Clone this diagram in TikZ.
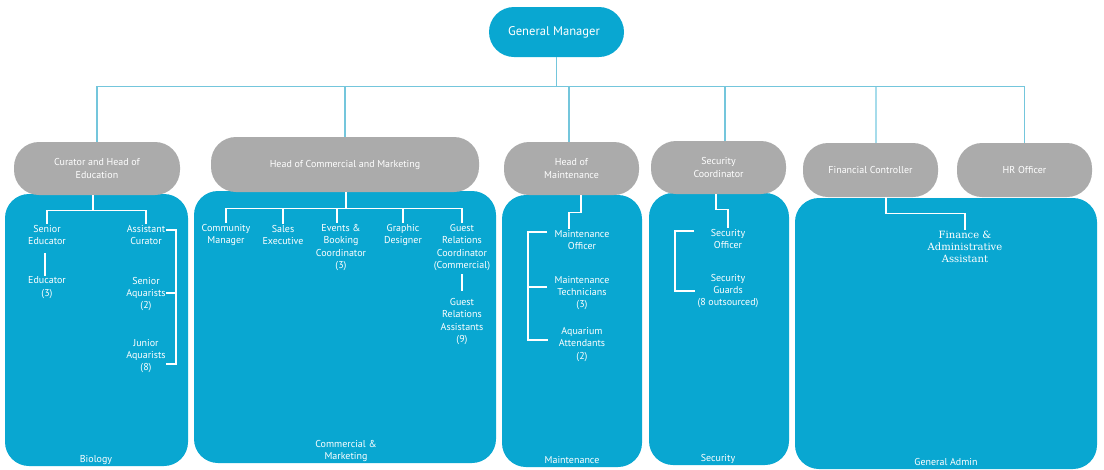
\documentclass[tikz,border=0pt]{standalone}
\usepackage{fontspec}
\setmainfont{PT Sans}
\newfontfamily\serifaa{DejaVu Serif}
\definecolor{boxblue}{HTML}{09A7D1}
\definecolor{pillgrey}{HTML}{ABABAB}
\definecolor{busblue}{HTML}{74C6DC}
\definecolor{buslight}{HTML}{A6DCEB}
\begin{document}
\begin{tikzpicture}[x=1pt,y=-1pt,
  pill/.style={draw=none,fill=pillgrey,rounded corners=25pt,text=white,align=center,
    font=\fontsize{10}{12.5}\selectfont,inner sep=0pt},
  dept/.style={draw=none,fill=boxblue,rounded corners=24pt,inner sep=0pt},
  txt/.style={text=white,align=center,font=\fontsize{10}{12.3}\selectfont,inner sep=1pt},
  lbl/.style={text=white,align=center,font=\fontsize{10}{12.3}\selectfont,inner sep=0pt},
  bus/.style={draw=busblue,line width=1.4pt},
  wl/.style={draw=white,line width=1.2pt}]
\useasboundingbox (0,0) rectangle (1104,469);
% General manager
\node[dept,rounded corners=25pt,minimum width=135pt,minimum height=50pt,text=white,
  font=\fontsize{12.6}{14}\selectfont] (gm) at (556.5,32) {General Manager\hspace*{5pt}};
% department boxes
\node[dept,minimum width=183pt,minimum height=272pt] (bio) at (96.5,330) {};
\node[dept,minimum width=302pt,minimum height=272pt] (cm) at (345,327) {};
\node[dept,minimum width=140pt,minimum height=272pt] (mt) at (572,331) {};
\node[dept,minimum width=140pt,minimum height=272pt] (sc) at (719,329) {};
\node[dept,minimum width=302pt,minimum height=271pt] (ga) at (946,333.5) {};
% heads
\node[pill,minimum width=166pt,minimum height=53pt] (cur) at (97,168.5) {Curator and Head of\\Education};
\node[pill,minimum width=268pt,minimum height=55pt] (com) at (345,164.5) {Head of Commercial and Marketing};
\node[pill,minimum width=135pt,minimum height=53pt] (mnt) at (571.5,168.5) {Head of\\Maintenance};
\node[pill,minimum width=135pt,minimum height=53pt] (sec) at (718.5,167.5) {Security\\Coordinator};
\node[pill,minimum width=135pt,minimum height=54pt] (fin) at (870.5,170) {Financial Controller};
\node[pill,minimum width=135pt,minimum height=54pt] (hr) at (1024.5,170) {HR Officer};
% bus
\coordinate (busy) at (0,86.5);
\draw[bus] (gm.south) -- (gm.south |- busy);
\draw[bus] (cur.north) -- (cur.north |- busy) -- (hr.north |- busy) -- (hr.north);
\draw[bus] (com.north |- busy) -- (com.north);
\draw[bus] ([xshift=-2.5pt]mnt.north |- busy) -- ([xshift=-2.5pt]mnt.north);
\draw[bus] ([xshift=6.5pt]sec.north |- busy) -- ([xshift=6.5pt]sec.north);
\draw[draw=buslight,line width=1.2pt] ([xshift=5.5pt]fin.north |- busy) -- ([xshift=5.5pt]fin.north);
% Biology
\node[txt] (se) at (47,235) {Senior\\Educator};
\node[txt] (ed) at (47,287.5) {Educator\\(3)};
\node[txt] (ac) at (146,235) {Assistant\\Curator};
\node[txt] (sa) at (146,294) {Senior\\Aquarists\\(2)};
\node[txt] (ja) at (146,356) {Junior\\Aquarists\\(8)};
\node[lbl] (biol) at (96,460) {Biology};
\draw[wl] ([xshift=-4pt]cur.south) -- ++(0,15) coordinate (bj);
\draw[wl] (se.north) |- (bj) -| (ac.north);
\coordinate (e1) at (45,253); \coordinate (e2) at (45,276);
\draw[wl] (e1) -- (e2);
\coordinate (b1) at (166,230); \coordinate (b2) at (176,230);
\coordinate (b3) at (166,293); \coordinate (b4) at (176,293);
\coordinate (b5) at (166,364); \coordinate (b6) at (176,364);
\draw[wl] (b1) -- (b2) -- (b6) -- (b5);
\draw[wl] (b3) -- (b4);
% Commercial
\node[txt] (cmn) at (226,235) {Community\\Manager};
\node[txt] (sx) at (283,235) {Sales\\Executive};
\node[txt] (ev) at (341,247.5) {Events \&\\Booking\\Coordinator\\(3)};
\node[txt] (gd) at (403,235) {Graphic\\Designer};
\node[txt] (grc) at (462,247.5) {Guest\\Relations\\Coordinator\\(Commercial)};
\node[txt] (gra) at (462,321.5) {Guest\\Relations\\Assistants\\(9)};
\node[lbl] (cml) at (346,451) {Commercial \&\\Marketing};
\draw[wl] ([xshift=1pt]com.south) -- ++(0,16) coordinate (cj);
\draw[wl] (cmn.north) |- (cj) -| (grc.north);
\draw[wl] (sx.north) -- (sx.north |- cj);
\draw[wl] ([xshift=-4pt]ev.north) -- ([xshift=-4pt]ev.north |- cj);
\draw[wl] (gd.north) -- (gd.north |- cj);
\coordinate (g1) at (462,274); \coordinate (g2) at (462,291);
\draw[wl] (g1) -- (g2);
% Maintenance
\node[txt] (mo) at (582,240) {Maintenance\\Officer};
\node[txt] (mtc) at (582,293) {Maintenance\\Technicians\\(3)};
\node[txt] (aa) at (582,344.5) {Aquarium\\Attendants\\(2)};
\node[lbl] (mtl) at (572,460) {Maintenance};
\draw[wl] ([xshift=9.5pt]mnt.south) -- ++(0,17) -| ([xshift=-13pt]mo.north);
\coordinate (m1) at (547,232); \coordinate (m2) at (528,232);
\coordinate (m3) at (547,287); \coordinate (m4) at (528,287);
\coordinate (m5) at (548,340); \coordinate (m6) at (528,340);
\draw[wl] (m1) -- (m2) -- (m6) -- (m5);
\draw[wl] (m3) -- (m4);
% Security
\node[txt] (so) at (728,239) {Security\\Officer};
\node[txt] (sg) at (728,291) {Security\\Guards\\(8 outsourced)};
\node[lbl] (scl) at (718,459) {Security};
\draw[wl] ([xshift=-2.5pt]sec.south) -- ++(0,15) -| (so.north);
\coordinate (s1) at (694,231); \coordinate (s2) at (675,231);
\coordinate (s3) at (695,291); \coordinate (s4) at (675,291);
\draw[wl] (s1) -- (s2) -- (s4) -- (s3);
% General admin
\node[txt,font=\serifaa\fontsize{10}{12.3}\selectfont] (faa) at (965,247) {Finance \&\\Administrative\\Assistant};
\node[lbl] (gal) at (946,462) {General Admin};
\draw[wl] ([xshift=15.5pt]fin.south) -- ++(0,16) -| (faa.north);
\end{tikzpicture}
\end{document}
